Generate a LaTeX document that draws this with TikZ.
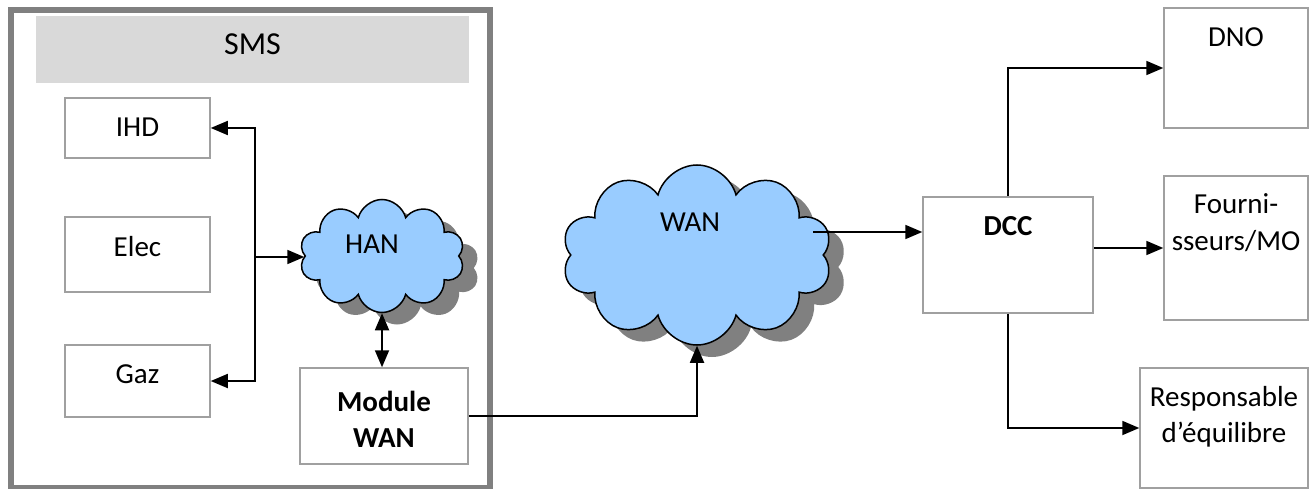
\documentclass[tikz,border=0pt]{standalone}
\usepackage{fontspec}
\setmainfont{Carlito}
\usetikzlibrary{arrows.meta,shapes.symbols,shadows}

\definecolor{framegray}{HTML}{808080}
\definecolor{bandgray}{HTML}{D9D9D9}
\definecolor{boxgray}{HTML}{A0A0A0}
\definecolor{cloudblue}{HTML}{99CCFF}
\definecolor{shadowgray}{HTML}{808080}

\tikzset{
  box/.style={draw=boxgray, line width=1.5pt, inner sep=0pt},
  txt/.style={anchor=base, align=center, inner sep=0pt, font=\fontsize{29}{36}\selectfont},
  arr/.style={line width=1.8pt, -{Triangle[length=17pt,width=14pt]}},
  arrs/.style={line width=1.8pt, {Triangle[length=17pt,width=14pt]}-{Triangle[length=17pt,width=14pt]}},
  net/.style={cloud, cloud puffs=10, cloud puff arc=150, cloud ignores aspect, draw, line width=1.5pt,
    fill=cloudblue, inner sep=0pt,
    drop shadow={shadow xshift=15pt, shadow yshift=-12pt, fill=shadowgray, opacity=1}}
}

\begin{document}
\begin{tikzpicture}[x=1pt,y=-1pt]

            \useasboundingbox (0,0) rectangle (1314,489);

            \draw[framegray, line width=6pt] (11,10) rectangle (490,488);
            \fill[bandgray] (36,16) rectangle (469,83);
            \node (smstxt) [txt, font=\fontsize{32}{38}\selectfont] at (252.5,55) {SMS};

            \node (ihd) [box, minimum width=145pt, minimum height=60pt] at (137.5,128) {};
            \node (elec) [box, minimum width=145pt, minimum height=75pt] at (137.5,254.5) {};
            \node (gaz) [box, minimum width=145pt, minimum height=72pt] at (137.5,381) {};
            \node (ihdtxt) [txt] at (137.5,137) {IHD};
            \node (electxt) [txt] at (137.5,256) {Elec};
            \node (gaztxt) [txt] at (137.5,383) {Gaz};

            \node (han) [net, minimum width=165pt, minimum height=113pt] at (382,256) {};
            \node (hantxt) [txt] at (372,253) {HAN};

            \node (module) [box, minimum width=168pt, minimum height=96pt] at (384,416) {};
            \node (moduletxt) [txt] at (384,447) {\textbf{Module}\\\textbf{WAN}};

            \node (wan) [net, minimum width=270pt, minimum height=180pt] at (697,255) {};
            \node (wantxt) [txt] at (690,232) {WAN};
            \coordinate (wanout) at (813,232);

            \node (dcc) [box, minimum width=170pt, minimum height=116pt] at (1008,255) {};
            \node (dcctxt) [txt] at (1008,235) {\textbf{DCC}};

            \node (dno) [box, minimum width=144pt, minimum height=120pt] at (1236,68) {};
            \node (dnotxt) [txt] at (1236,47) {DNO};
            \node (four) [box, minimum width=144pt, minimum height=144pt] at (1236,248) {};
            \node (fourtxt) [txt] at (1236,250) {Fourni-\\sseurs/MO};
            \node (resp) [box, minimum width=168pt, minimum height=120pt] at (1224,428) {};
            \node (resptxt) [txt] at (1224,442) {Responsable\\d’équilibre};

            \coordinate (junc) at (255,257);
            \draw[arr] (junc) |- (ihd.east);
            \draw[arr] (junc) |- (gaz.east);
            \draw[arr] (junc) -- (junc -| han.west);
            \draw[arrs] (han.south) -- (han.south |- module.north);
            \draw[arr] (module.east) -| (wan.south);
            \draw[arr] (wanout) -- (wanout -| dcc.west);
            \draw[arr] (dcc.north) |- (dno.west);
            \draw[arr] (dcc.east |- four.west) -- (four.west);
            \draw[arr] (dcc.south) |- (resp.west);

\end{tikzpicture}
\end{document}
